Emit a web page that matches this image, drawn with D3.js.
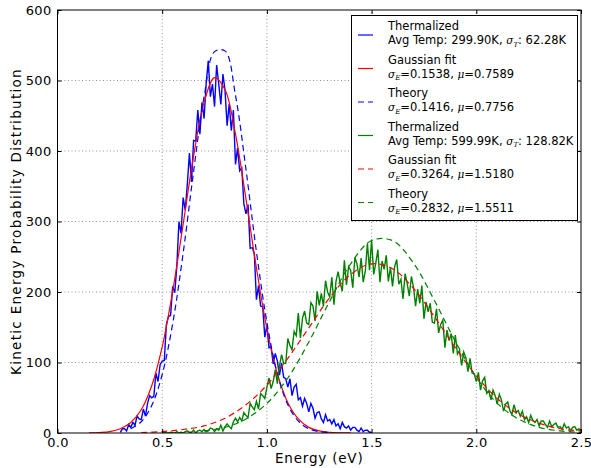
<!DOCTYPE html>
<html>
<head>
<meta charset="utf-8">
<script src="https://cdn.jsdelivr.net/npm/d3@7"></script>
<style>
  body { margin: 0; background: #fff; }
  text { font-family: "DejaVu Sans", sans-serif; fill: #000; }
</style>
</head>
<body>
<div id="chart"></div>
<script>
// histogram bins are 0.01 eV wide
var binWidth = 0.01;

// 300 K run, bins from 0.30 eV
var blueStart = 0.30;
var blueHist = [1, 6, 6, 3, 12, 8, 15, 11, 24, 20,
  19, 34, 24, 42, 53, 50, 52, 85, 73, 97,
  102, 103, 154, 165, 167, 208, 199, 237, 300, 283,
  334, 316, 353, 397, 356, 415, 414, 458, 424, 469,
  446, 496, 528, 477, 495, 463, 522, 495, 466, 509,
  486, 436, 467, 429, 458, 381, 404, 372, 376, 325,
  311, 324, 262, 263, 254, 189, 209, 180, 179, 136,
  153, 121, 122, 98, 113, 102, 82, 99, 79, 77,
  65, 77, 53, 65, 69, 47, 50, 38, 49, 42,
  30, 42, 35, 21, 29, 30, 20, 15, 26, 17,
  19, 13, 19, 10, 13, 6, 15, 9, 7, 10,
  4, 8, 8, 4, 2, 7, 2, 4, 4, 1, 1];

// 600 K run, bins from 0.50 eV
var greenStart = 0.50;
var greenHist = [0, 1, 0, 0, 1, 0, 0, 2, 0, 1,
  0, 2, 3, 1, 1, 4, 0, 3, 4, 2,
  5, 2, 3, 7, 6, 2, 6, 4, 11, 3,
  9, 13, 9, 6, 16, 21, 16, 22, 17, 29,
  25, 22, 42, 37, 33, 45, 34, 56, 53, 49,
  65, 78, 63, 73, 90, 70, 95, 111, 99, 99,
  134, 124, 118, 144, 138, 170, 135, 163, 173, 156,
  154, 185, 180, 159, 201, 181, 198, 180, 216, 200,
  193, 221, 182, 215, 229, 213, 201, 245, 210, 236,
  231, 206, 249, 240, 221, 248, 214, 230, 269, 231,
  274, 225, 241, 260, 214, 244, 232, 252, 215, 235,
  208, 236, 246, 211, 218, 190, 226, 212, 194, 222,
  207, 180, 204, 184, 209, 162, 186, 172, 184, 157,
  156, 176, 142, 154, 160, 121, 146, 131, 141, 113,
  139, 112, 117, 96, 115, 107, 87, 106, 85, 84,
  73, 86, 61, 74, 79, 56, 60, 47, 61, 53,
  41, 55, 47, 31, 41, 44, 32, 26, 40, 29,
  32, 24, 31, 19, 23, 15, 25, 18, 15, 19,
  10, 17, 17, 12, 8, 17, 9, 12, 14, 8,
  9, 5, 13, 7, 9, 3, 8, 9, 4, 6, 4];

// smooth curves, read every 0.05 eV
var curveStep = 0.05;
var blueFitStart = 0.15;
var blueFit = [0.2, 0.7, 2, 6, 15, 33, 67, 122, 201, 296,
  393, 469, 504, 487, 424, 332, 234, 148, 84, 43,
  20, 8, 3, 1, 0.3, 0.1];
var blueTheoryStart = 0.35;
var blueTheory = [6, 16, 39, 83, 155, 255, 371, 477, 541, 542,
  479, 374, 257, 157, 84, 40, 17, 6, 2, 0.6];

// wider curves, read every 0.1 eV
var wideStep = 0.1;
var greenFitStart = 0.4;
var greenFit = [0.7, 2, 5, 10, 21, 40, 68, 106, 149, 192,
  225, 240, 233, 205, 165, 121, 81, 49, 27, 14, 6, 3];
var greenTheoryStart = 0.7;
var greenTheory = [3, 8, 20, 42, 78, 129, 187, 240, 273, 273,
  241, 188, 130, 79, 42, 20, 8, 3, 1];

var xTicks = [0, 0.5, 1.0, 1.5, 2.0, 2.5];
var yTicks = [0, 100, 200, 300, 400, 500, 600];

// legend texts
var avgTemp = ["299.90", "599.99"];
var sigmaT = ["62.28", "128.82"];
var fitSigma = ["0.1538", "0.3264"];
var fitMu = ["0.7589", "1.5180"];
var theorySigma = ["0.1416", "0.2832"];
var theoryMu = ["0.7756", "1.5511"];

var W = 591, H = 468;
var margin = {top: 10, right: 10, bottom: 35, left: 57.5};

var svg = d3.select("#chart").append("svg")
    .attr("width", W)
    .attr("height", H);

var x = d3.scaleLinear().domain([0, 2.5]).range([margin.left, W - margin.right]);
var y = d3.scaleLinear().domain([0, 600]).range([H - margin.bottom, margin.top]);

svg.append("clipPath").attr("id", "plotclip")
  .append("rect")
    .attr("x", x(0)).attr("y", y(600))
    .attr("width", x(2.5) - x(0)).attr("height", y(0) - y(600));

// dotted grid
var grid = svg.append("g").attr("class", "grid");
grid.selectAll(".gx").data(xTicks.slice(1, -1)).enter().append("line")
    .attr("x1", function(d) { return x(d); }).attr("x2", function(d) { return x(d); })
    .attr("y1", y(0)).attr("y2", y(600))
    .attr("stroke", "#777").attr("stroke-width", 0.8).attr("stroke-dasharray", "1,2.5");
grid.selectAll(".gy").data(yTicks.slice(1, -1)).enter().append("line")
    .attr("y1", function(d) { return y(d); }).attr("y2", function(d) { return y(d); })
    .attr("x1", x(0)).attr("x2", x(2.5))
    .attr("stroke", "#777").attr("stroke-width", 0.8).attr("stroke-dasharray", "1,2.5");

function histPoints(start, vals) {
  return vals.map(function(v, i) { return [start + i * binWidth, v]; });
}
function curvePoints(start, step, vals) {
  return vals.map(function(v, i) { return [start + i * step, v]; });
}

var rawLine = d3.line()
    .x(function(d) { return x(d[0]); })
    .y(function(d) { return y(d[1]); });
var smoothLine = d3.line()
    .x(function(d) { return x(d[0]); })
    .y(function(d) { return y(d[1]); })
    .curve(d3.curveCatmullRom);

var plot = svg.append("g").attr("clip-path", "url(#plotclip)");

var series = [
  {pts: histPoints(blueStart, blueHist), color: "#0000ff", dash: null, smooth: false, w: 1.4},
  {pts: curvePoints(blueFitStart, curveStep, blueFit), color: "#ff0000", dash: null, smooth: true, w: 1.2},
  {pts: curvePoints(blueTheoryStart, curveStep, blueTheory), color: "#0000ff", dash: "6,4", smooth: true, w: 1.2},
  {pts: histPoints(greenStart, greenHist), color: "#008000", dash: null, smooth: false, w: 1.4},
  {pts: curvePoints(greenFitStart, wideStep, greenFit), color: "#ff0000", dash: "6,4", smooth: true, w: 1.2},
  {pts: curvePoints(greenTheoryStart, wideStep, greenTheory), color: "#008000", dash: "6,4", smooth: true, w: 1.2}
];

series.forEach(function(s) {
  plot.append("path")
    .datum(s.pts)
    .attr("fill", "none")
    .attr("stroke", s.color)
    .attr("stroke-width", s.w)
    .attr("stroke-dasharray", s.dash)
    .attr("d", s.smooth ? smoothLine : rawLine);
});

// axes with inward ticks on all four sides
var fmtX = d3.format(".1f");
function tickText(g) {
  g.selectAll("text")
    .style("font-size", "13px")
    .style("letter-spacing", "0.3px")
    .style("font-family", "DejaVu Sans");
}
svg.append("g")
    .attr("transform", "translate(0," + y(0) + ")")
    .call(d3.axisBottom(x).tickValues(xTicks).tickFormat(fmtX).tickSize(-4).tickPadding(5))
    .call(function(g) { g.select(".domain").remove(); })
    .call(tickText);
svg.append("g")
    .attr("transform", "translate(" + x(0) + ",0)")
    .call(d3.axisLeft(y).tickValues(yTicks).tickSize(-4).tickPadding(6))
    .call(function(g) { g.select(".domain").remove(); })
    .call(tickText);
svg.append("g")
    .attr("transform", "translate(0," + y(600) + ")")
    .call(d3.axisTop(x).tickValues(xTicks).tickFormat("").tickSize(-4))
    .call(function(g) { g.select(".domain").remove(); });
svg.append("g")
    .attr("transform", "translate(" + x(2.5) + ",0)")
    .call(d3.axisRight(y).tickValues(yTicks).tickFormat("").tickSize(-4))
    .call(function(g) { g.select(".domain").remove(); });

svg.append("rect")
    .attr("x", x(0)).attr("y", y(600))
    .attr("width", x(2.5) - x(0)).attr("height", y(0) - y(600))
    .attr("fill", "none").attr("stroke", "#000").attr("stroke-width", 1);

svg.append("text")
    .attr("x", (x(0) + x(2.5)) / 2)
    .attr("y", 463)
    .style("text-anchor", "middle")
    .style("font-size", "13.5px")
    .style("letter-spacing", "0.8px")
    .text("Energy (eV)");

svg.append("text")
    .attr("transform", "translate(21," + (y(0) + y(600)) / 2 + ") rotate(-90)")
    .style("text-anchor", "middle")
    .style("font-size", "13.5px")
    .style("letter-spacing", "1.3px")
    .text("Kinetic Energy Probability Distribution");

// legend
var legend = svg.append("g");
legend.append("rect")
    .attr("x", 351.5).attr("y", 15.5).attr("width", 226).attr("height", 205)
    .attr("fill", "#fff").attr("stroke", "#000").attr("stroke-width", 1);

var entries = [];
[0, 1].forEach(function(k) {
  entries.push({title: "Thermalized", color: k ? "#008000" : "#0000ff", dash: null,
    parts: [["Avg Temp: " + avgTemp[k] + "K, "], ["\u03c3", "i"], ["T", "s"], [": " + sigmaT[k] + "K"]]});
  entries.push({title: "Gaussian fit", color: "#ff0000", dash: k ? "6,4" : null,
    parts: [["\u03c3", "i"], ["E", "s"], ["=" + fitSigma[k] + ", "], ["\u03bc", "i"], ["=" + fitMu[k]]]});
  entries.push({title: "Theory", color: k ? "#008000" : "#0000ff", dash: "6,4",
    parts: [["\u03c3", "i"], ["E", "s"], ["=" + theorySigma[k] + ", "], ["\u03bc", "i"], ["=" + theoryMu[k]]]});
});

entries.forEach(function(e, i) {
  var base = 30 + i * 33.5;
  legend.append("line")
      .attr("x1", 358).attr("x2", 373)
      .attr("y1", base + 5).attr("y2", base + 5)
      .attr("stroke", e.color).attr("stroke-width", 1.2)
      .attr("stroke-dasharray", e.dash);
  legend.append("text")
      .attr("x", 388).attr("y", base)
      .style("font-size", "11.5px")
      .text(e.title);
  var t = legend.append("text")
      .attr("x", 388).attr("y", base + 14)
      .style("font-size", "11.5px");
  var shifted = false;
  e.parts.forEach(function(p) {
    var ts = t.append("tspan").text(p[0]);
    if (p[1] === "i") {
      ts.style("font-family", "DejaVu Serif").style("font-style", "italic").style("font-size", "10.5px");
    } else if (p[1] === "s") {
      ts.style("font-family", "DejaVu Serif").style("font-style", "italic").style("font-size", "7px")
        .attr("dy", 2.5);
      shifted = true;
    } else if (shifted) {
      ts.attr("dy", -2.5);
      shifted = false;
    }
  });
});
</script>
</body>
</html>
